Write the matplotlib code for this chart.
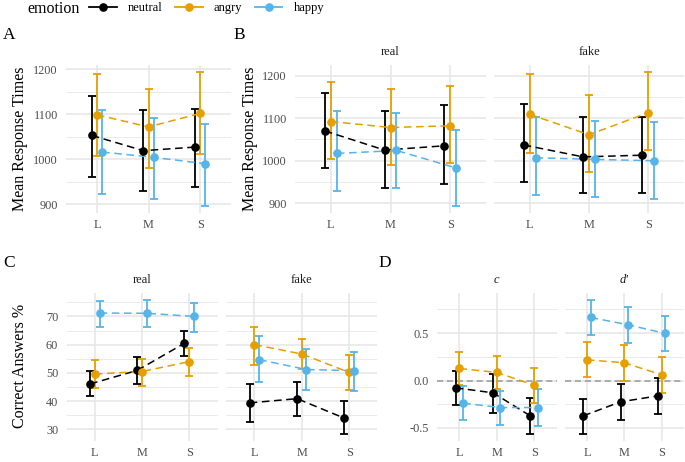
import matplotlib
matplotlib.use('Agg')
import matplotlib.pyplot as plt
import matplotlib.ticker as mticker
from matplotlib.lines import Line2D

plt.rcParams['font.family'] = ['Liberation Serif', 'DejaVu Serif']
plt.rcParams['axes.unicode_minus'] = False

W, H = 685, 462

sizes = ['L', 'M', 'S']
emotions = ['neutral', 'angry', 'happy']
colors = {'neutral': '#000000', 'angry': '#E69F00', 'happy': '#56B4E9'}
dodge = {'neutral': -0.1, 'angry': 0.0, 'happy': 0.1}

# A: mean response times (all)
rt_mean = {'neutral': [1053, 1019, 1027], 'angry': [1099, 1072, 1102], 'happy': [1016, 1004, 990]}
rt_lo = {'neutral': [961, 930, 939], 'angry': [1006, 980, 1012], 'happy': [922, 912, 895]}
rt_hi = {'neutral': [1141, 1110, 1113], 'angry': [1189, 1157, 1195], 'happy': [1109, 1092, 1079]}

# B: response times by real / fake
rt_real_mean = {'neutral': [1070, 1025, 1035], 'angry': [1092, 1078, 1082], 'happy': [1017, 1024, 983]}
rt_real_lo = {'neutral': [983, 936, 946], 'angry': [1003, 989, 995], 'happy': [929, 935, 893]}
rt_real_hi = {'neutral': [1160, 1117, 1130], 'angry': [1186, 1168, 1175], 'happy': [1117, 1113, 1073]}
rt_fake_mean = {'neutral': [1037, 1009, 1013], 'angry': [1109, 1061, 1113], 'happy': [1007, 1003, 1000]}
rt_fake_lo = {'neutral': [951, 923, 923], 'angry': [1019, 973, 1025], 'happy': [919, 914, 909]}
rt_fake_hi = {'neutral': [1134, 1103, 1103], 'angry': [1203, 1155, 1209], 'happy': [1102, 1094, 1091]}

# C: correct answers %
acc_real_mean = {'neutral': [46.1, 50.9, 60.5], 'angry': [49.6, 50.5, 54.0], 'happy': [71.2, 71.1, 70.0]}
acc_real_lo = {'neutral': [41.8, 46.1, 56.0], 'angry': [44.8, 45.4, 48.8], 'happy': [66.1, 66.1, 64.6]}
acc_real_hi = {'neutral': [50.6, 55.5, 64.7], 'angry': [54.4, 55.1, 58.7], 'happy': [75.6, 75.9, 74.6]}
acc_fake_mean = {'neutral': [39.4, 40.9, 34.0], 'angry': [60.0, 56.7, 50.2], 'happy': [54.7, 51.2, 50.8]}
acc_fake_lo = {'neutral': [32.7, 34.9, 28.3], 'angry': [52.9, 51.3, 44.1], 'happy': [46.8, 43.9, 43.5]}
acc_fake_hi = {'neutral': [46.1, 46.8, 39.9], 'angry': [66.1, 62.0, 56.4], 'happy': [62.9, 58.6, 57.5]}

# D: signal detection, c and d'
c_mean = {'neutral': [-0.077, -0.13, -0.373], 'angry': [0.127, 0.085, -0.049], 'happy': [-0.239, -0.285, -0.285]}
c_lo = {'neutral': [-0.26, -0.338, -0.567], 'angry': [-0.045, -0.09, -0.232], 'happy': [-0.415, -0.468, -0.479]}
c_hi = {'neutral': [0.099, 0.067, -0.187], 'angry': [0.30, 0.257, 0.127], 'happy': [-0.063, -0.106, -0.092]}
d_mean = {'neutral': [-0.373, -0.225, -0.162], 'angry': [0.218, 0.187, 0.06], 'happy': [0.665, 0.588, 0.496]}
d_lo = {'neutral': [-0.567, -0.415, -0.352], 'angry': [0.032, 0.0, -0.127], 'happy': [0.475, 0.394, 0.306]}
d_hi = {'neutral': [-0.19, -0.042, 0.028], 'angry': [0.405, 0.37, 0.246], 'happy': [0.852, 0.775, 0.683]}


def box(x0, y0, x1, y1):
    return [x0 / W, 1 - y1 / H, (x1 - x0) / W, (y1 - y0) / H]


def limits(lows, highs):
    lo = min(min(v) for d in lows for v in d.values())
    hi = max(max(v) for d in highs for v in d.values())
    pad = 0.05 * (hi - lo)
    return lo - pad, hi + pad


def panel(fig, rect, mean, lo, hi, ylim, major, minor, labels=True, strip=None,
          strip_style='normal', zero=False, fmt=None):
    ax = fig.add_axes(rect)
    for e in emotions:
        x = [i + dodge[e] for i in range(3)]
        err = [[m - l for m, l in zip(mean[e], lo[e])], [h - m for m, h in zip(mean[e], hi[e])]]
        ax.errorbar(x, mean[e], yerr=err, fmt='none', ecolor=colors[e], elinewidth=1.3,
                    capsize=3.0, capthick=1.3, zorder=3)
        ax.plot(x, mean[e], color=colors[e], lw=1.1, dashes=(5, 3), zorder=4)
        ax.plot(x, mean[e], 'o', color=colors[e], ms=5.2, zorder=5)
    if zero:
        ax.axhline(0, color='#999999', lw=1.1, dashes=(4, 2.5), zorder=2)
    ax.set_xlim(-0.6, 2.6)
    ax.set_ylim(*ylim)
    ax.set_xticks([0, 1, 2])
    ax.set_xticklabels(sizes)
    ax.set_yticks(major)
    ax.set_yticks(minor, minor=True)
    if fmt:
        ax.yaxis.set_major_formatter(mticker.FormatStrFormatter(fmt))
    ax.grid(which='major', color='#E6E6E6', lw=1.1)
    ax.grid(which='minor', axis='y', color='#E6E6E6', lw=0.6)
    ax.set_axisbelow(True)
    ax.tick_params(which='both', length=0, labelsize=8.8, colors='#4D4D4D')
    ax.tick_params(axis='y', pad=6)
    ax.tick_params(axis='x', pad=4)
    if not labels:
        ax.tick_params(axis='y', labelleft=False)
    for s in ax.spines.values():
        s.set_visible(False)
    if strip:
        ax.text(0.5, 1.07, strip, transform=ax.transAxes, ha='center', va='baseline',
                fontsize=9, color='#1A1A1A', style=strip_style)
    return ax


fig = plt.figure(figsize=(W / 100, H / 100), dpi=100)

# legend row
fig.text(27 / W, 1 - 12.7 / H, 'emotion', fontsize=11.5, va='baseline', ha='left')
handles = [Line2D([], [], color=colors[e], lw=1.3, marker='o', ms=5.2) for e in emotions]
fig.legend(handles, emotions, loc='center left', bbox_to_anchor=(89 / W, 1 - 8 / H), ncol=3,
           frameon=False, fontsize=9, handlelength=2.2, handletextpad=0.9, columnspacing=1.0,
           borderpad=0, borderaxespad=0)

# row 1
ylA = limits([rt_lo], [rt_hi])
panel(fig, box(66, 65, 231, 213), rt_mean, rt_lo, rt_hi, ylA,
      [900, 1000, 1100, 1200], [950, 1050, 1150])
ylB = limits([rt_real_lo, rt_fake_lo], [rt_real_hi, rt_fake_hi])
panel(fig, box(295, 65, 486, 213), rt_real_mean, rt_real_lo, rt_real_hi, ylB,
      [900, 1000, 1100, 1200], [950, 1050, 1150], strip='real')
panel(fig, box(494, 65, 684, 213), rt_fake_mean, rt_fake_lo, rt_fake_hi, ylB,
      [900, 1000, 1100, 1200], [950, 1050, 1150], labels=False, strip='fake')

# row 2
ylC = limits([acc_real_lo, acc_fake_lo], [acc_real_hi, acc_fake_hi])
panel(fig, box(66.5, 293, 217.5, 441), acc_real_mean, acc_real_lo, acc_real_hi, ylC,
      [30, 40, 50, 60, 70], [35, 45, 55, 65, 75], strip='real')
panel(fig, box(226, 293, 377.5, 441), acc_fake_mean, acc_fake_lo, acc_fake_hi, ylC,
      [30, 40, 50, 60, 70], [35, 45, 55, 65, 75], labels=False, strip='fake')
ylD = limits([c_lo, d_lo], [c_hi, d_hi])
panel(fig, box(437, 293, 556.5, 441), c_mean, c_lo, c_hi, ylD,
      [-0.5, 0.0, 0.5], [-0.25, 0.25, 0.75], strip='c', strip_style='italic', zero=True, fmt='%.1f')
panel(fig, box(564.5, 293, 684, 441), d_mean, d_lo, d_hi, ylD,
      [-0.5, 0.0, 0.5], [-0.25, 0.25, 0.75], labels=False, strip="d'", strip_style='italic',
      zero=True, fmt='%.1f')

# panel letters and axis titles
for letter, x, y in [('A', 3, 39.3), ('B', 233, 39.3), ('C', 3, 266.7), ('D', 378, 266.7)]:
    fig.text(x / W, 1 - y / H, letter, fontsize=12.5, ha='left', va='baseline')
fig.text(20 / W, 1 - 139 / H, 'Mean Response Times', rotation=90, fontsize=11.5, ha='center', va='center')
fig.text(250 / W, 1 - 139 / H, 'Mean Response Times', rotation=90, fontsize=11.5, ha='center', va='center')
fig.text(20 / W, 1 - 366 / H, 'Correct Answers %', rotation=90, fontsize=11.5, ha='center', va='center')

fig.savefig('out.png', dpi=100)
